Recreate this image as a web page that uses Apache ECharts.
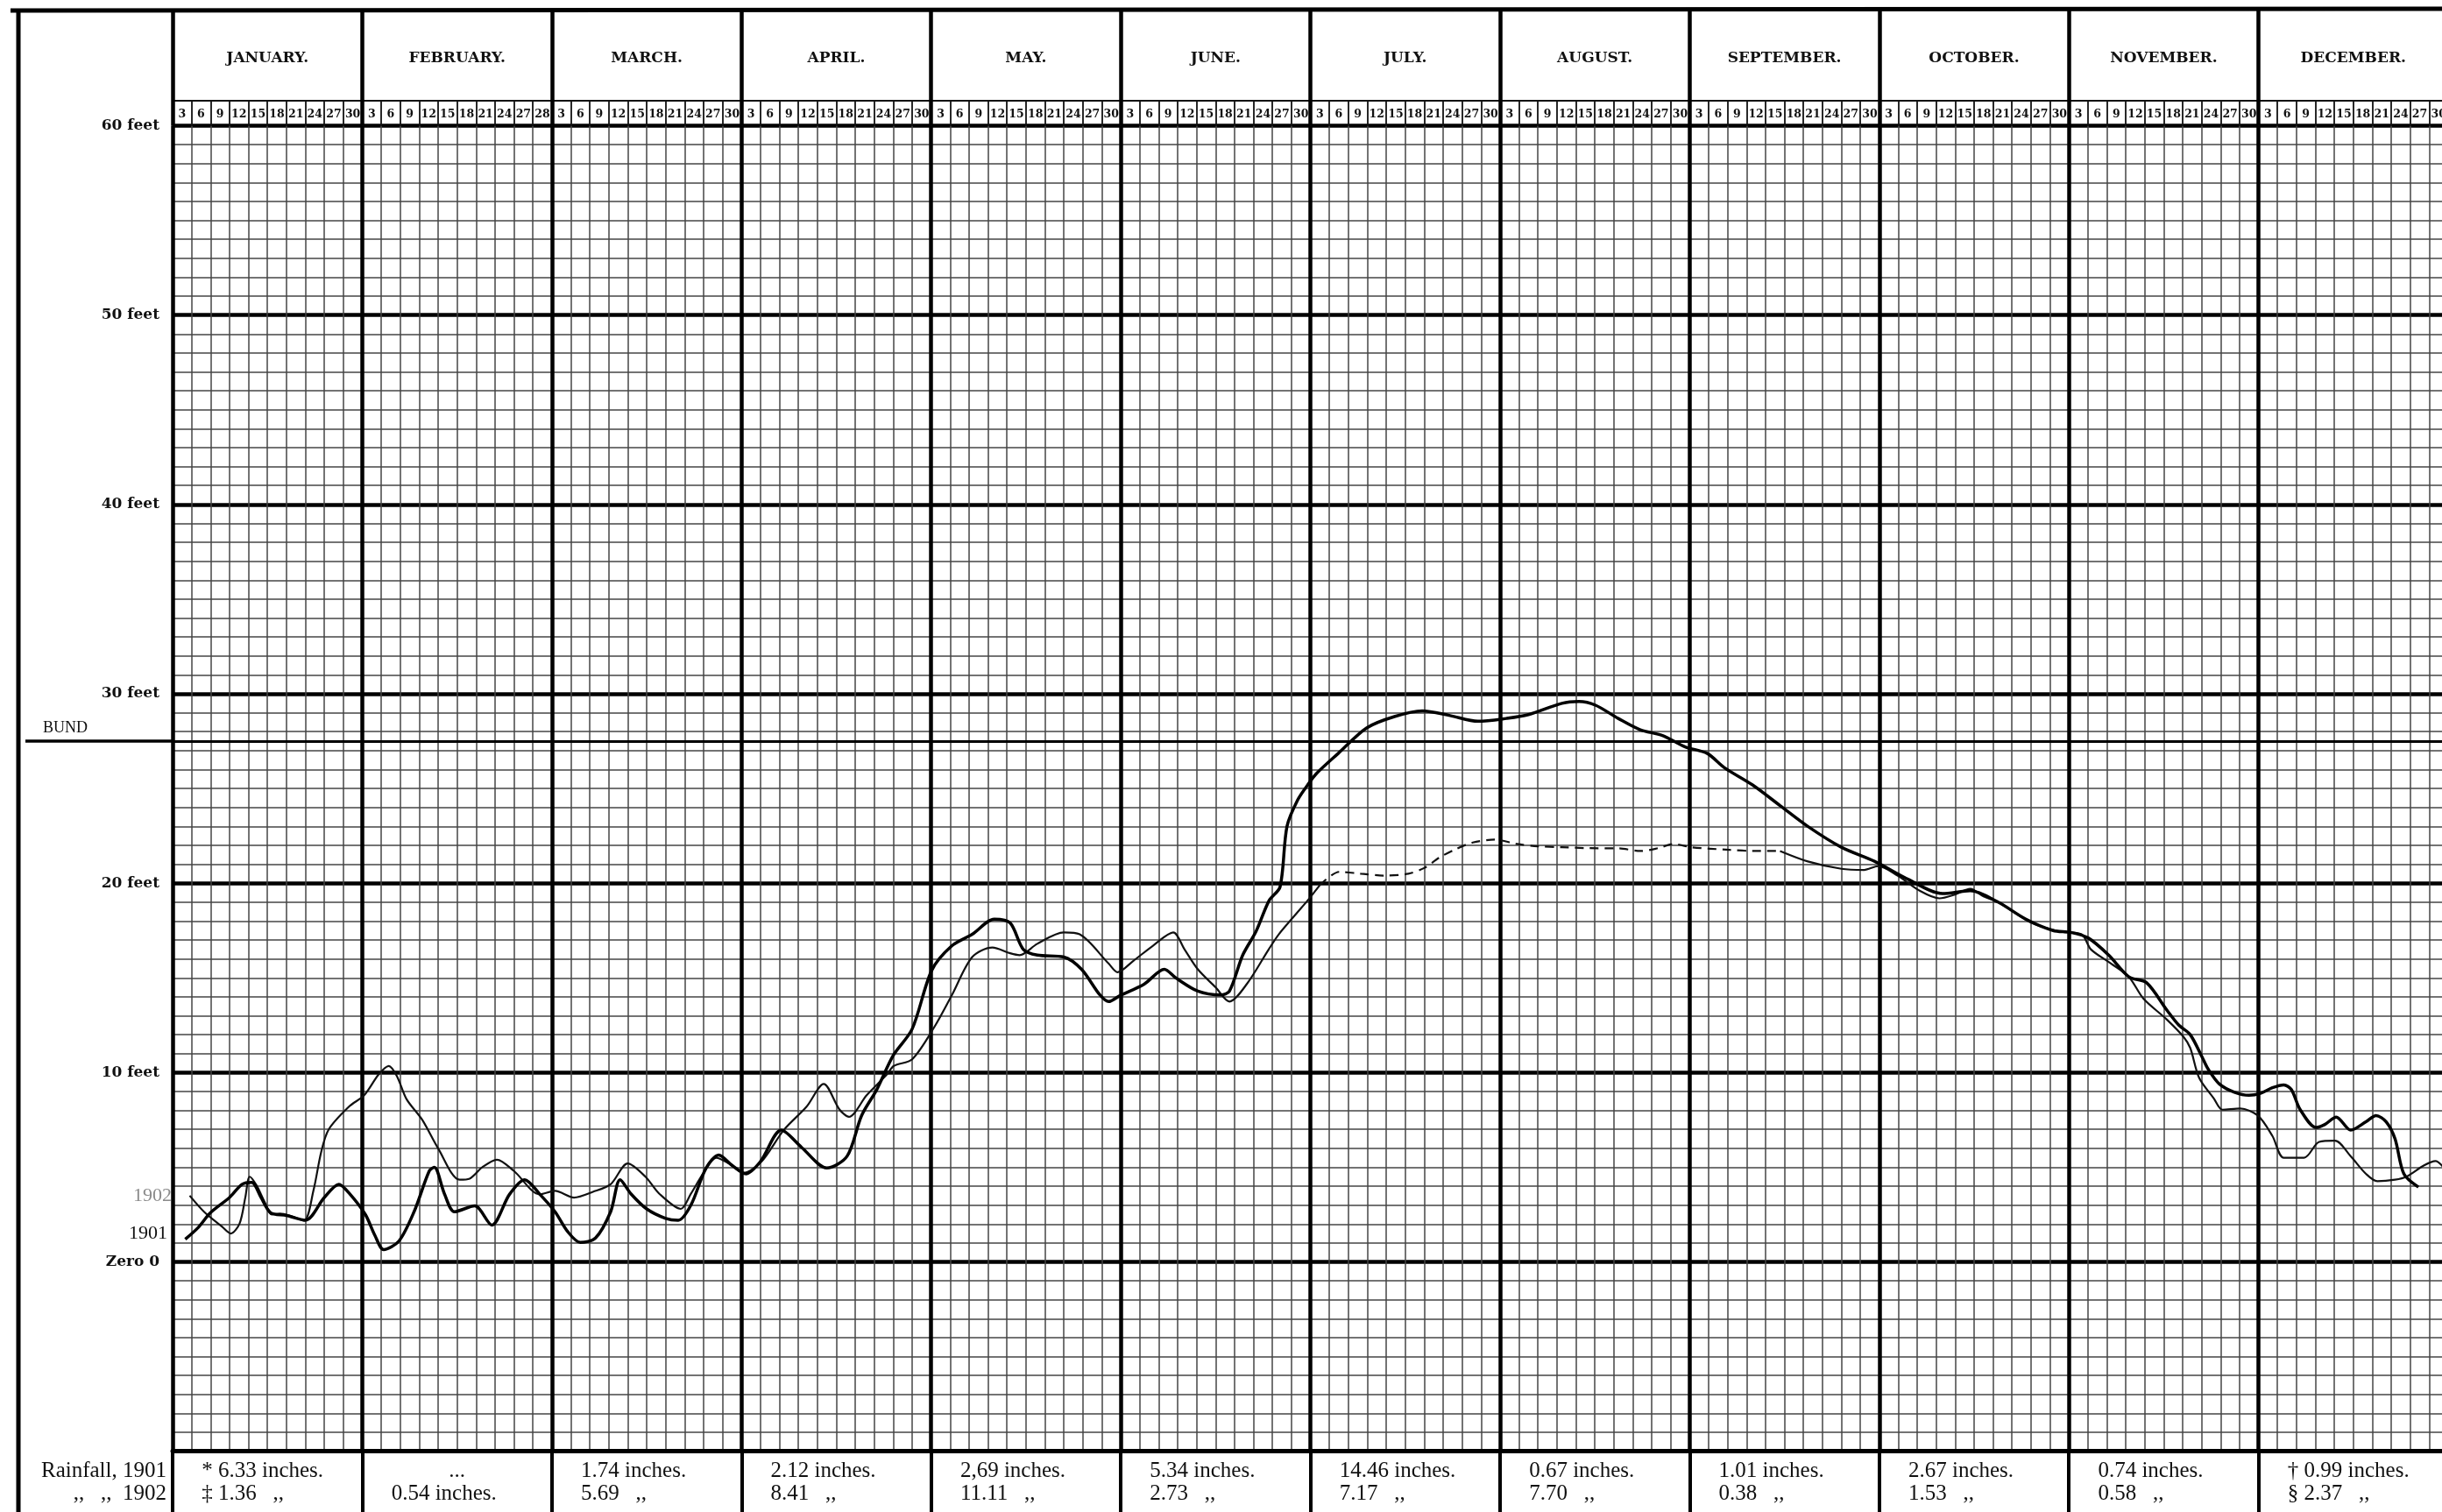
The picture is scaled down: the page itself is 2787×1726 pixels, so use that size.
<!DOCTYPE html>
<html><head><meta charset="utf-8">
<script src="https://cdn.jsdelivr.net/npm/echarts@6/dist/echarts.min.js"></script>
<style>html,body{margin:0;padding:0;background:#fff}#c{width:2787px;height:1726px}</style>
</head><body><div id="c"></div>
<script>
// ---------- data ----------
const monthNames = ['JANUARY.','FEBRUARY.','MARCH.','APRIL.','MAY.','JUNE.','JULY.','AUGUST.','SEPTEMBER.','OCTOBER.','NOVEMBER.','DECEMBER.'];
const dayTicks = ['3','6','9','12','15','18','21','24','27','30'];
const febDayTicks = ['3','6','9','12','15','18','21','24','27','28'];
const levelTicks = [60,50,40,30,20,10,0];
const bundLevel = 27.5;

const rain1901 = ['* 6.33 inches.','...','1.74 inches.','2.12 inches.','2,69 inches.','5.34 inches.','14.46 inches.','0.67 inches.','1.01 inches.','2.67 inches.','0.74 inches.','\u2020 0.99 inches.'];
const rain1902 = ['\u2021 1.36   ,,','0.54 inches.','5.69   ,,','8.41   ,,','11.11   ,,','2.73   ,,','7.17   ,,','7.70   ,,','0.38   ,,','1.53   ,,','0.58   ,,','\u00a7 2.37   ,,'];

// day position (each month = 30 units), water level in feet
const days1901 = [2,4,6,9,11,12.5,14,15.5,18,21,24,26.3,28,30.5,32,33.4,35.8,38.2,40.6,41.4,43,44.6,47.8,50.5,53.3,55.7,58.1,60.5,62.5,64.5,66.9,69.3,70.8,72.5,75,78,80,82,84.4,86.4,88.5,90.7,93,96.3,99.5,103.5,106.7,109,111.4,114,117,120.1,123.3,126.5,130,132.5,134.6,136.8,141,143.8,146.7,148.1,149.8,153.7,156.9,158.7,162.2,165.8,167.2,169.3,171.4,173.5,175.2,176.3,178,179.6,181,184.4,188.9,193.3,197.7,202.1,206.5,211,214.5,219.8,222.5,225.1,228.7,232.2,235.7,239.3,242.8,245.5,249.9,254.3,258.7,264,269.3,274.6,280,284.4,288.8,293.2,297.5,300.3,303.1,306.3,309.5,312.3,315.5,317.4,319.2,321.1,322,323.8,326.2,328.5,330.3,332.2,334,335.2,336.6,339.1,340.5,342.3,344.6,347,348.6,350.2,351.6,353,355.3];
const level1901 = [1.2,1.8,2.6,3.4,4.1,4.2,3.4,2.6,2.45,2.2,3.4,4.1,3.6,2.5,1.4,0.65,1.1,2.65,4.8,5.0,3.6,2.65,2.96,1.95,3.57,4.34,3.57,2.65,1.6,1.03,1.26,2.65,4.34,3.6,2.8,2.3,2.2,3.0,4.96,5.65,5.1,4.65,5.3,6.96,6.05,4.96,5.58,7.73,9.1,10.9,12.3,15.4,16.7,17.3,18.1,17.9,16.5,16.2,16.1,15.45,14.1,13.75,14.05,14.67,15.45,15.0,14.3,14.1,14.3,16.2,17.45,19.1,19.8,23.0,24.4,25.2,25.8,26.85,28.2,28.8,29.1,28.85,28.55,28.7,28.9,29.5,29.6,29.4,28.7,28.1,27.8,27.2,26.85,26.1,25.2,24.1,23.0,21.9,21.15,20.2,19.45,19.6,19.0,18.1,17.5,17.4,17.1,16.2,15.05,14.74,13.3,12.5,12.0,10.8,10.2,9.4,8.96,8.8,8.9,9.2,9.35,9.1,8.04,7.1,7.26,7.65,6.96,7.4,7.73,7.4,6.5,4.65,3.95];

const days1902 = [2.7,5,7.8,9.2,10.6,11.5,12.2,13.3,14.5,15.7,17,18.9,20.8,22.3,23.5,24.7,27.9,30.3,32.6,34.2,35.5,37,39.5,42,45.4,47,49,51.3,54,58.1,60.5,63.5,66.5,69.3,72,74.8,77,80.4,82,84,86,88,90.3,93.1,96.7,100.3,103,105.5,107,109.8,113,114.1,117,120.5,123.3,126.5,129.7,132.5,134,136.8,141,143.5,148.1,149.5,152,155.1,158.3,160.1,162.2,165,167.2,170,173.4,175,177.8,179.6,181.5,184.6,188,191.7,195.5,198,200.4,203,205.7,209.2,212.7,216,219.8,224,228.7,232.2,235,237.5,240.2,246.3,250,254.3,258.7,264,267.6,269.8,272.9,276.4,279.5,282,284.4,286.5,288.8,294.1,298.5,302,303.5,306.7,309.5,311.8,315.5,318.1,319.2,320.6,322.9,324.3,327.1,329.9,332.2,334,337.2,339.6,342.1,344.6,347,348.8,351.6,353.4,356.2,358,359.5];
const level1902 = [3.5,2.64,1.87,1.5,2.03,3.4,4.5,4.03,3.2,2.5,2.55,2.4,2.18,3.8,5.8,7.0,8.2,8.8,9.9,10.35,9.8,8.6,7.5,6.0,4.34,4.4,5.0,5.4,4.8,3.57,3.75,3.4,3.7,4.1,5.2,4.5,3.6,2.8,3.6,4.7,5.5,5.2,4.7,5.27,6.97,8.2,9.4,8.05,7.66,8.8,9.9,10.35,10.7,12.4,14.1,16.1,16.6,16.3,16.2,16.8,17.4,17.3,15.75,15.3,15.9,16.7,17.4,16.5,15.45,14.5,13.75,14.7,16.5,17.3,18.4,19.1,19.9,20.6,20.5,20.4,20.5,20.8,21.35,21.8,22.15,22.3,22.07,21.95,21.9,21.85,21.84,21.7,21.85,22.07,21.9,21.76,21.7,21.7,21.15,20.76,20.7,20.9,20.4,19.6,19.2,19.4,19.7,19.3,19.0,17.9,17.45,17.3,16.5,15.75,15.05,13.9,12.8,11.9,11.3,9.73,8.65,8.04,8.1,7.73,6.65,5.5,5.5,6.34,6.4,5.57,4.65,4.26,4.34,4.5,5.1,5.33,4.9];
const dashed1902From = 181.5, dashed1902To = 254.3;

// ---------- build ----------
const pairs = (d, v) => d.map((x, i) => [x, v[i]]);
const p1901 = pairs(days1901, level1901);
const p1902 = pairs(days1902, level1902);
const dayLabels = monthNames.flatMap((m, i) => (i === 1 ? febDayTicks : dayTicks));

const INK = '#111';
const thin = {color: '#444', width: 1.5, type: 'solid'};
const thick = {color: '#000', width: 4.5};
const boldFont = '"DejaVu Serif", serif';
const bookFont = '"Liberation Serif", serif';

function withLabel(data, text, dy, col) {
  return data.map((p, i) => i === 0 ? {
    value: p,
    label: {show: true, position: 'left', distance: 20, offset: [0, dy], formatter: text,
            fontFamily: bookFont, fontSize: 22, color: col}
  } : p);
}

const chart = echarts.init(document.getElementById('c'), null, {renderer: 'canvas'});
const lineBase = {type: 'line', smooth: 0.3, symbol: 'circle', symbolSize: 1, showSymbol: true, clip: false,
  itemStyle: {color: 'rgba(0,0,0,0)', borderWidth: 0}, label: {show: false}, emphasis: {disabled: true}, animation: false};

chart.setOption({
  animation: false,
  backgroundColor: '#fff',
  grid: {left: 197, right: -7, top: 143.5, bottom: 69.3, outerBoundsMode: 'none', containLabel: false},
  xAxis: [
    {type: 'value', min: 0, max: 360, interval: 3, position: 'bottom',
     axisLine: {show: false, onZero: false}, axisTick: {show: false}, axisLabel: {show: false},
     splitLine: {show: true, lineStyle: thin}},
    {type: 'value', min: 0, max: 360, interval: 30, position: 'bottom',
     axisLine: {show: false, onZero: false}, axisTick: {show: false}, axisLabel: {show: false},
     splitLine: {show: true, lineStyle: thick}},
    {type: 'category', data: monthNames, position: 'top', offset: 28.5, boundaryGap: true,
     axisLine: {show: true, onZero: false, lineStyle: {color: INK, width: 2}},
     axisTick: {show: false},
     axisLabel: {interval: 0, margin: 40, fontFamily: boldFont, fontWeight: 'bold', fontSize: 17, color: INK},
     splitLine: {show: false}},
    {type: 'category', data: dayLabels, position: 'top', offset: 0, boundaryGap: true,
     axisLine: {show: false, onZero: false},
     axisTick: {show: true, interval: 0, length: 28.5, lineStyle: {color: INK, width: 1.8}},
     axisLabel: {interval: 0, margin: 6, fontFamily: boldFont, fontWeight: 'bold', fontSize: 12.5, color: INK},
     splitLine: {show: false}},
    {type: 'category', data: monthNames, position: 'top', offset: 0, boundaryGap: true,
     axisLine: {show: false, onZero: false},
     axisTick: {show: true, interval: 0, length: 133, lineStyle: {color: '#000', width: 4.5}},
     axisLabel: {show: false}, splitLine: {show: false}},
    {type: 'category', data: monthNames, position: 'bottom', offset: 0, boundaryGap: true,
     axisLine: {show: true, onZero: false, lineStyle: {color: '#000', width: 5}},
     axisTick: {show: true, interval: 0, length: 72, lineStyle: {color: '#000', width: 4}},
     axisLabel: {interval: 0, margin: 10,
       formatter: (v, i) => (rain1901[i] === '...' ? '{c|' + rain1901[i] + '}' : '{l|' + rain1901[i] + '}') + '\n{l|' + rain1902[i] + '}',
       rich: {
         l: {width: 150, align: 'left', fontFamily: bookFont, fontSize: 25, lineHeight: 26, color: INK},
         c: {width: 150, align: 'center', fontFamily: bookFont, fontSize: 25, lineHeight: 26, color: INK}
       }},
     splitLine: {show: false}}
  ],
  yAxis: [
    {type: 'value', min: -10, max: 60, interval: 1, position: 'left',
     axisLine: {show: false, onZero: false}, axisTick: {show: false}, axisLabel: {show: false},
     splitLine: {show: true, lineStyle: thin}},
    {type: 'value', min: -10, max: 60, interval: 10, position: 'left', offset: 0,
     axisLine: {show: false, onZero: false}, axisTick: {show: false},
     axisLabel: {margin: 15, fontFamily: boldFont, fontWeight: 'bold', fontSize: 17, color: INK,
       formatter: v => levelTicks.includes(v) ? (v === 0 ? 'Zero 0' : v + ' feet') : ''},
     splitLine: {show: true, lineStyle: thick}},
    {type: 'value', min: -10, max: 60, position: 'left', offset: 0,
     axisLine: {show: false, onZero: false},
     axisTick: {show: true, customValues: [bundLevel], length: 168, lineStyle: {color: '#000', width: 3.5}},
     axisLabel: {show: true, customValues: [bundLevel], formatter: () => 'BUND', margin: 97,
       verticalAlign: 'bottom', padding: [0, 0, 6, 0], fontFamily: bookFont, fontSize: 18, color: INK},
     splitLine: {show: false}}
  ],
  graphic: [
    {type: 'line', shape: {x1: 21, y1: 14, x2: 21, y2: 1726}, style: {stroke: '#000', lineWidth: 5}, z: 10},
    {type: 'line', shape: {x1: 12, y1: 12, x2: 2787, y2: 10}, style: {stroke: '#000', lineWidth: 5}, z: 10},
    {type: 'text', x: 190, y: 1679, style: {text: 'Rainfall, 1901', font: '25px "Liberation Serif"', fill: INK, align: 'right', verticalAlign: 'middle'}},
    {type: 'text', x: 190, y: 1705, style: {text: ',,   ,,  1902', font: '25px "Liberation Serif"', fill: INK, align: 'right', verticalAlign: 'middle'}}
  ],
  series: [
    Object.assign({}, lineBase, {name: '1901', xAxisIndex: 0, yAxisIndex: 0, z: 5,
      lineStyle: {color: '#000', width: 3.5},
      data: withLabel(p1901, '1901', -6, INK),
      markLine: {silent: true, symbol: 'none', label: {show: false},
        lineStyle: {color: '#000', width: 3, type: 'solid'}, data: [{yAxis: bundLevel}]}}),
    Object.assign({}, lineBase, {name: '1902', xAxisIndex: 0, yAxisIndex: 0, z: 4,
      lineStyle: {color: '#111', width: 2.2},
      data: withLabel(p1902.filter(p => p[0] <= dashed1902From), '1902', 0, '#8a8a8a')}),
    Object.assign({}, lineBase, {name: '1902 (broken)', xAxisIndex: 0, yAxisIndex: 0, z: 4,
      lineStyle: {color: '#111', width: 2.2, type: [10, 7]},
      data: p1902.filter(p => p[0] >= dashed1902From && p[0] <= dashed1902To)}),
    Object.assign({}, lineBase, {name: '1902 ', xAxisIndex: 0, yAxisIndex: 0, z: 4,
      lineStyle: {color: '#111', width: 2.2},
      data: p1902.filter(p => p[0] >= dashed1902To)})
  ]
});
</script>
</body></html>
